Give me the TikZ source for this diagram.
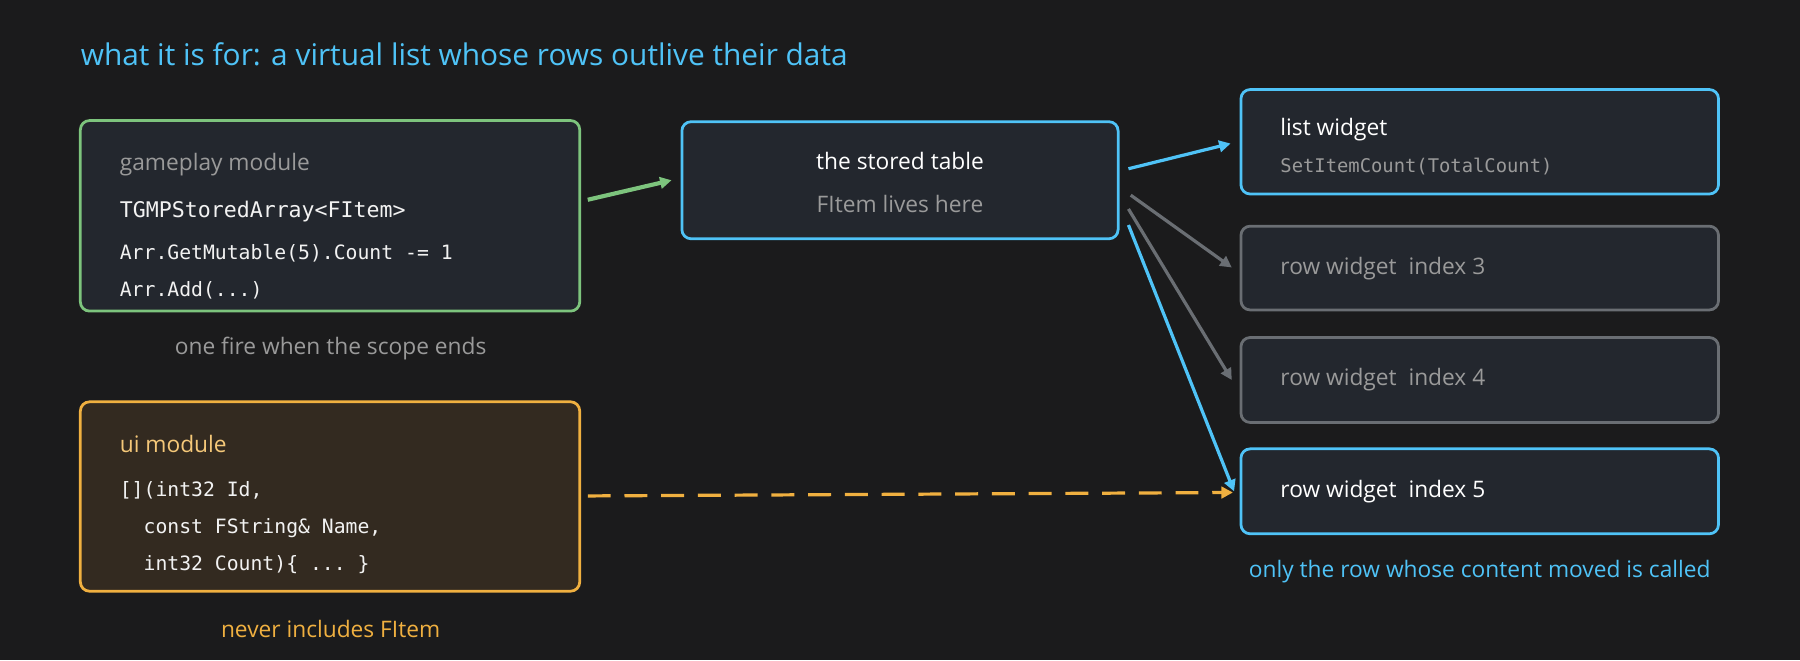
\documentclass[tikz,border=0pt]{standalone}
\usepackage{fontspec}
\setmainfont{Open Sans}
\setmonofont{DejaVu Sans Mono}
\usetikzlibrary{arrows.meta}
\definecolor{bg}{HTML}{1B1B1C}
\definecolor{boxf}{HTML}{23272E}
\definecolor{blu}{HTML}{4FC3F7}
\definecolor{grn}{HTML}{7DC47D}
\definecolor{org}{HTML}{F0B040}
\definecolor{orgf}{HTML}{332A20}
\definecolor{gry}{HTML}{9A9A9A}
\definecolor{gline}{HTML}{6A6E73}
\begin{document}
\begin{tikzpicture}[x=0.5pt,y=-0.5pt,
  box/.style={rounded corners=4pt,line width=1.2pt,fill=boxf},
  lbl/.style={anchor=west,inner sep=0pt},
  mono/.style={lbl,text=white!90!gray,font=\ttfamily\fontsize{8.6}{10}\selectfont},
  txt/.style={font=\fontsize{9.9}{12}\selectfont},
  arr/.style={line width=1.4pt,-{Triangle[length=5pt,width=5pt]}}]
\path[fill=bg] (0,0) rectangle (1568,575);
\useasboundingbox (0,0) rectangle (1568,575);
\node[lbl,text=blu,font=\fontsize{13}{15}\selectfont] (title) at (70,47) {what it is for: a virtual list whose rows outlive their data};
% gameplay
\draw[box,draw=grn] (70,105) rectangle (505,271);
\node[lbl,txt,text=gry] (gm) at (104,143) {gameplay module};
\node[mono,font=\ttfamily\fontsize{9.4}{10}\selectfont] (t1) at (104,184) {TGMPStoredArray<FItem>};
\node[mono] (t2) at (104,221) {Arr.GetMutable(5).Count -= 1};
\node[mono] (t3) at (104,253) {Arr.Add(...)};
\node[txt,text=gry] (c1) at (288,304) {one fire when the scope ends};
\coordinate (gA) at (512,174);
% ui
\draw[box,draw=org,fill=orgf] (70,350) rectangle (505,515);
\node[lbl,txt,text=org!70!white] (ui) at (104,387) {ui module};
\node[mono] (u1) at (104,427) {[](int32 Id,};
\node[mono] (u2) at (104,460) {\ \ const FString\& Name,};
\node[mono] (u3) at (104,492) {\ \ int32 Count)\{ ... \}};
\node[txt,text=org] (c2) at (288,548) {never includes FItem};
\coordinate (oA) at (512,432);
% stored
\draw[box,draw=blu] (594,106) rectangle (974,208);
\node[txt,text=white] (st) at (784,140) {the stored table};
\node[txt,text=gry] (st2) at (784,178) {FItem lives here};
\coordinate (sIn) at (585,157);
% widgets
\draw[box,draw=blu] (1081,78) rectangle (1497,169);
\node[lbl,txt,text=white] (lw) at (1115,113) {list widget};
\node[mono,text=gry,font=\ttfamily\fontsize{8.2}{10}\selectfont] (lw2) at (1115,145) {SetItemCount(TotalCount)};
\draw[box,draw=gline] (1081,197) rectangle (1497,270);
\node[lbl,txt,text=gry] (r3) at (1115,234) {row widget\ \ index 3};
\draw[box,draw=gline] (1081,294) rectangle (1497,368);
\node[lbl,txt,text=gry] (r4) at (1115,331) {row widget\ \ index 4};
\draw[box,draw=blu] (1081,391) rectangle (1497,465);
\node[lbl,txt,text=white] (r5) at (1115,428) {row widget\ \ index 5};
\node[txt,text=blu] (c3) at (1289,498) {only the row whose content moved is called};
% arrows
\draw[arr,grn,line width=1.8pt] (gA) -- (sIn);
\draw[arr,blu] (983,147) -- (1072,125);
\draw[arr,gline] (985,170) -- (1073,233);
\draw[arr,gline] (983,182) -- (1073,331);
\draw[arr,blu] (983,196) -- (1075,428);
\draw[arr,org,dash pattern=on 10pt off 6pt] (oA) -- (1074,429);
\end{tikzpicture}
\end{document}
